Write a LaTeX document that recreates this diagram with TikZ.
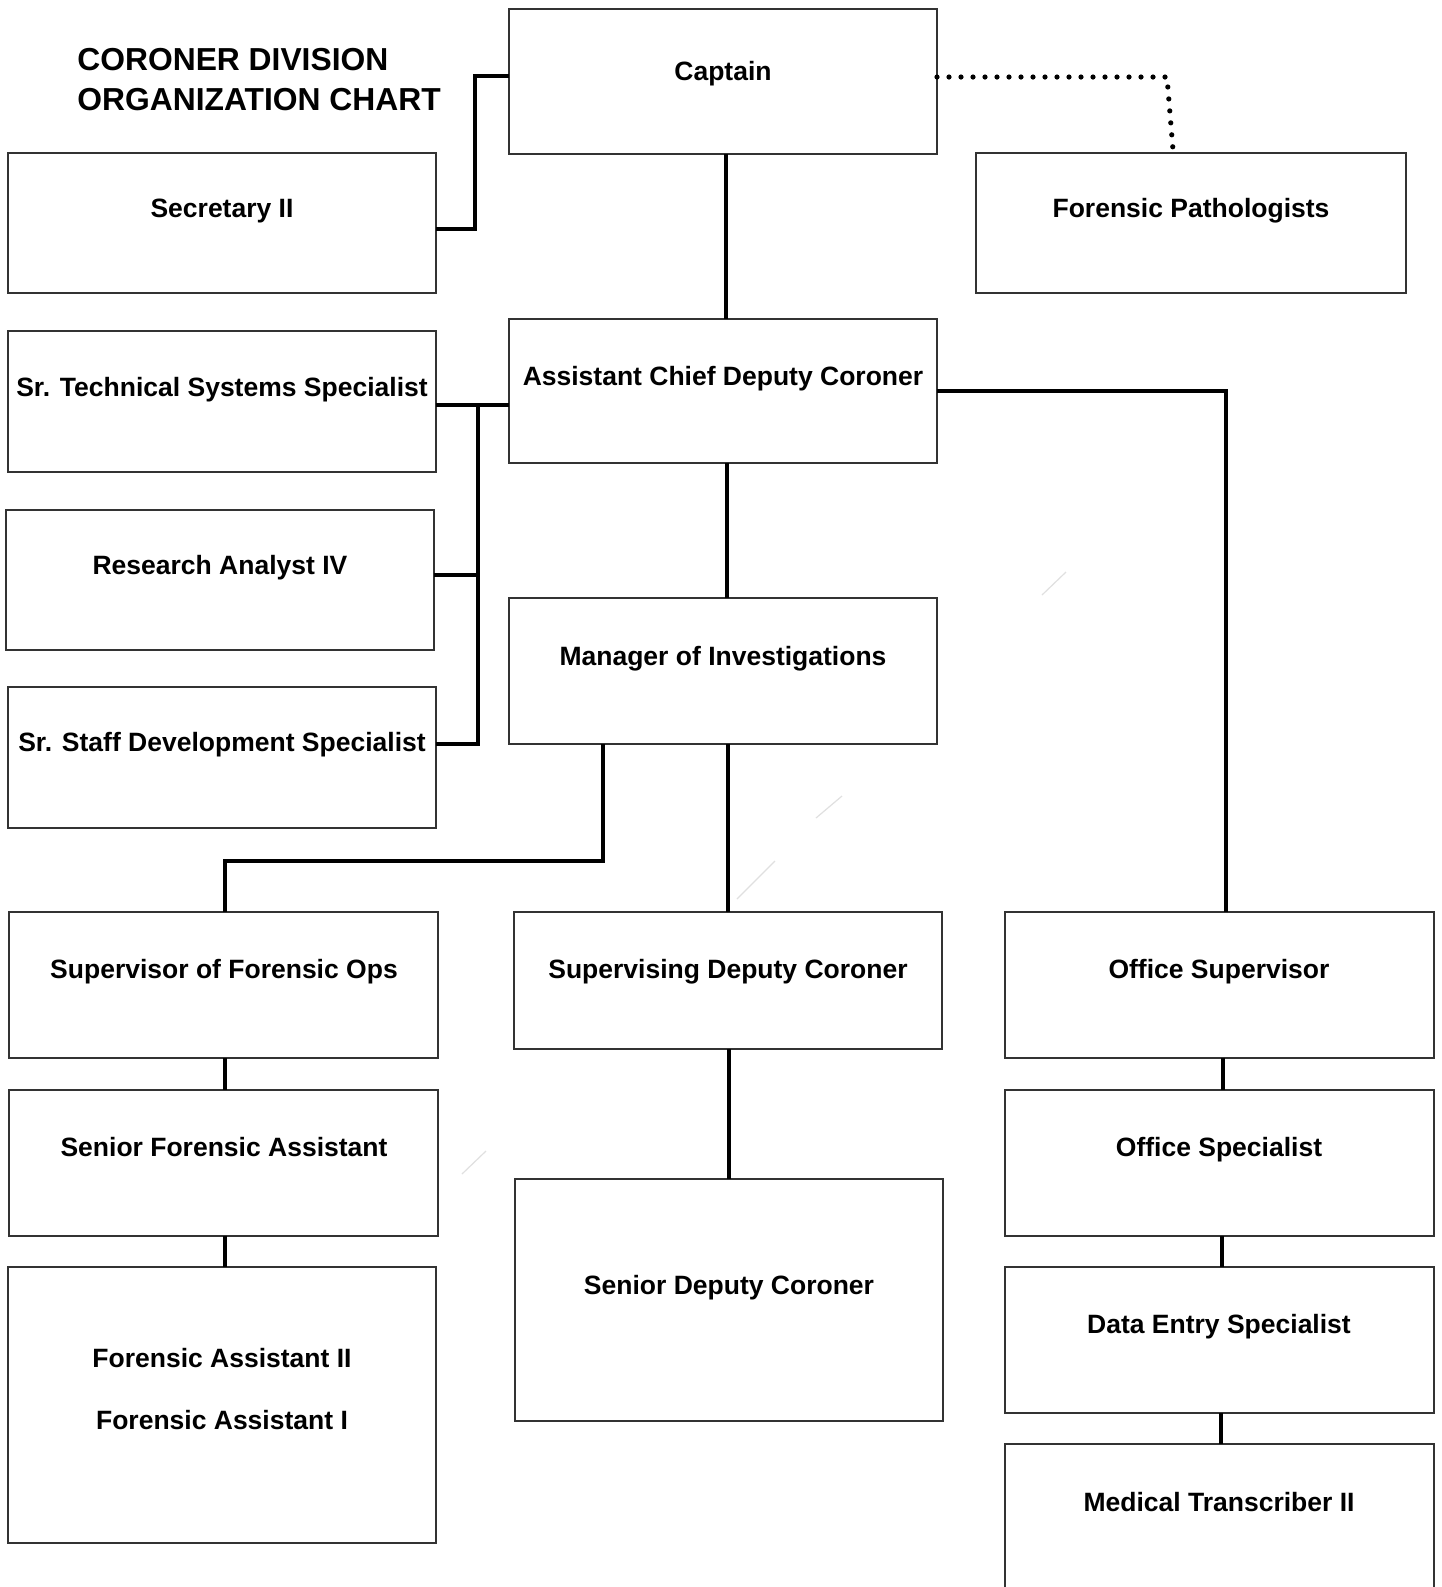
\documentclass[tikz,border=0pt]{standalone}
\usepackage{fontspec}
\setmainfont{Liberation Sans}
\usetikzlibrary{fit}
\begin{document}
\begin{tikzpicture}[x=0.5pt,y=-0.5pt,
  box/.style={inner sep=0pt, outer sep=0pt, draw=black!80, line width=0.9pt},
  lbl/.style={font=\fontsize{13.25pt}{16pt}\selectfont\bfseries, inner sep=0pt, anchor=base},
  ttl/.style={font=\fontsize{15.9pt}{19pt}\selectfont\bfseries, inner sep=0pt, anchor=base west},
  conn/.style={line width=1.8pt, black},
  thickconn/.style={line width=2.4pt, black},
  dotconn/.style={line width=2.6pt, line cap=round, dash pattern=on 0pt off 6pt, black},
  artifact/.style={line width=0.6pt, black!12}]
\fill[white] (0,0) rectangle (1442,1587);
\useasboundingbox (0,0) rectangle (1442,1587);
\clip (0,0) rectangle (1442,1587);

% title
\node[ttl] (title1) at (77,70) {CORONER DIVISION};
\node[ttl] (title2) at (77,110.5) {ORGANIZATION CHART};

% boxes
\node[box, fit={(509,9) (937,154)}] (cap) {};
\node[lbl] (capT) at (723,80) {Captain};

\node[box, fit={(8,153) (436,293)}] (sec) {};
\node[lbl] (secT) at (222,217) {Secretary II};

\node[box, fit={(976,153) (1406,293)}] (fp) {};
\node[lbl] (fpT) at (1191,217) {Forensic Pathologists};

\node[box, fit={(509,319) (937,463)}] (acdc) {};
\node[lbl] (acdcT) at (723,385) {Assistant Chief Deputy Coroner};

\node[box, fit={(8,331) (436,472)}] (sts) {};
\node[lbl] (stsT) at (222,396) {Sr. Technical Systems Specialist};

\node[box, fit={(6,510) (434,650)}] (ra) {};
\node[lbl] (raT) at (220,574) {Research Analyst IV};

\node[box, fit={(8,687) (436,828)}] (ssd) {};
\node[lbl] (ssdT) at (222,751) {Sr. Staff Development Specialist};

\node[box, fit={(509,598) (937,744)}] (mgr) {};
\node[lbl] (mgrT) at (723,665) {Manager of Investigations};

\node[box, fit={(9,912) (438,1058)}] (sfo) {};
\node[lbl] (sfoT) at (224,978) {Supervisor of Forensic Ops};

\node[box, fit={(514,912) (942,1049)}] (sdc) {};
\node[lbl] (sdcT) at (728,978) {Supervising Deputy Coroner};

\node[box, fit={(1005,912) (1434,1058)}] (osup) {};
\node[lbl] (osupT) at (1219,978) {Office Supervisor};

\node[box, fit={(9,1090) (438,1236)}] (sfa) {};
\node[lbl] (sfaT) at (224,1156) {Senior Forensic Assistant};

\node[box, fit={(515,1179) (943,1421)}] (sendc) {};
\node[lbl] (sendcT) at (729,1294) {Senior Deputy Coroner};

\node[box, fit={(1005,1090) (1434,1236)}] (ospec) {};
\node[lbl] (ospecT) at (1219,1156) {Office Specialist};

\node[box, fit={(8,1267) (436,1543)}] (fa) {};
\node[lbl] (faT1) at (222,1367.5) {Forensic Assistant II};
\node[lbl] (faT2) at (222,1429) {Forensic Assistant I};

\node[box, fit={(1005,1267) (1434,1413)}] (de) {};
\node[lbl] (deT) at (1219,1333) {Data Entry Specialist};

\node[box, fit={(1005,1444) (1434,1610)}] (mt) {};
\node[lbl] (mtT) at (1219,1511) {Medical Transcriber II};

% connectors
\coordinate (cs1) at (475,76);
\coordinate (cs2) at (475,229);
\draw[thickconn] (cap.west |- cs1) -- (cs1) -- (cs2) -- (sec.east |- cs2);

\coordinate (fp1) at (1167,77);
\coordinate (fp2) at (1173,150);
\draw[dotconn] (cap.east |- fp1) -- (fp1) -- (fp2);

\coordinate (xa) at (726,0);
\draw[conn] (cap.south -| xa) -- (acdc.north -| xa);

\coordinate (b1) at (478,405);
\coordinate (b2) at (478,575);
\coordinate (b3) at (478,744);
\draw[conn] (acdc.west |- b1) -- (sts.east |- b1);
\draw[conn] (ssd.east |- b3) -- (b3) -- (b1);
\draw[conn] (ra.east |- b2) -- (b2);

\coordinate (r1) at (1226,391);
\draw[conn] (acdc.east |- r1) -- (r1) -- (osup.north -| r1);

\coordinate (xb) at (727,0);
\draw[conn] (acdc.south -| xb) -- (mgr.north -| xb);

\coordinate (m1) at (603,861);
\coordinate (m2) at (225,861);
\draw[conn] (mgr.south -| m1) -- (m1) -- (m2) -- (sfo.north -| m2);

\coordinate (xc) at (728,0);
\draw[conn] (mgr.south -| xc) -- (sdc.north -| xc);
\coordinate (xd) at (729,0);
\draw[conn] (sdc.south -| xd) -- (sendc.north -| xd);

\draw[conn] (sfo.south -| m2) -- (sfa.north -| m2);
\draw[conn] (sfa.south -| m2) -- (fa.north -| m2);

\coordinate (xe) at (1223,0);
\coordinate (xf) at (1222,0);
\coordinate (xg) at (1221,0);
\draw[conn] (osup.south -| xe) -- (ospec.north -| xe);
\draw[conn] (ospec.south -| xf) -- (de.north -| xf);
\draw[conn] (de.south -| xg) -- (mt.north -| xg);

% faint scan marks
\draw[artifact] (1042,595) -- (1066,572);
\draw[artifact] (816,818) -- (842,796);
\draw[artifact] (737,899) -- (775,861);
\draw[artifact] (462,1174) -- (486,1151);
\end{tikzpicture}
\end{document}
